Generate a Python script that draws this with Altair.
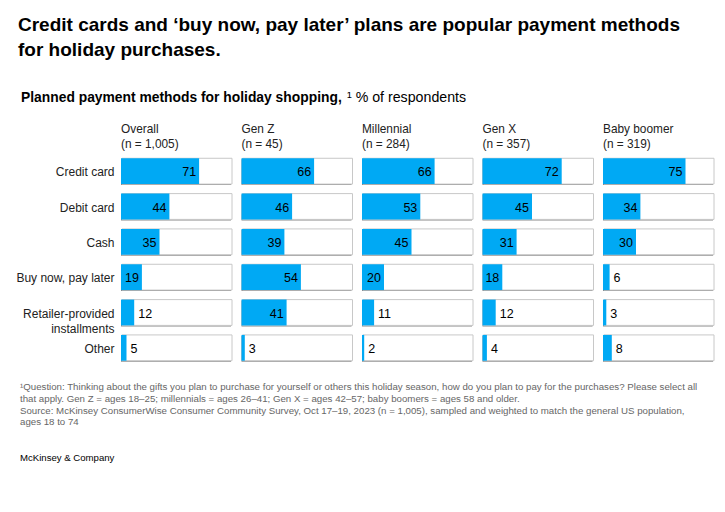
import altair as alt
import pandas as pd

title_lines = ["Credit cards and ‘buy now, pay later’ plans are popular payment methods",
               "for holiday purchases."]
subtitle_bold = "Planned payment methods for holiday shopping,"
subtitle_regular = "¹ % of respondents"

methods = ["Credit card", "Debit card", "Cash", "Buy now, pay later",
           "Retailer-provided|installments", "Other"]
panels = ["Overall", "Gen Z", "Millennial", "Gen X", "Baby boomer"]
panel_n = ["(n = 1,005)", "(n = 45)", "(n = 284)", "(n = 357)", "(n = 319)"]

overall = [71, 44, 35, 19, 12, 5]
gen_z = [66, 46, 39, 54, 41, 3]
millennial = [66, 53, 45, 20, 11, 2]
gen_x = [72, 45, 31, 18, 12, 4]
boomer = [75, 34, 30, 6, 3, 8]

footnotes = [
    "¹Question: Thinking about the gifts you plan to purchase for yourself or others this holiday season, how do you plan to pay for the purchases? Please select all",
    " that apply. Gen Z = ages 18–25; millennials = ages 26–41; Gen X = ages 42–57; baby boomers = ages 58 and older.",
    " Source: McKinsey ConsumerWise Consumer Community Survey, Oct 17–19, 2023 (n = 1,005), sampled and weighted to match the general US population,",
    " ages 18 to 74",
]
brand = "McKinsey & Company"

series = [overall, gen_z, millennial, gen_x, boomer]
rows = []
for p, vals in zip(panels, series):
    for m, v in zip(methods, vals):
        rows.append({"panel": p, "method": m, "value": v})
df = pd.DataFrame(rows)

FONT = "Liberation Sans, Arial, Helvetica, sans-serif"
BLUE = "#00A9F4"

xs = alt.Scale(domain=[0, 100], nice=False, zero=True)
one = pd.DataFrame({"k": [0]})


def note(text, x, y, size, weight="normal", color="#000", line_height=None):
    kw = dict(align="left", baseline="alphabetic", font=FONT, fontSize=size,
              fontWeight=weight, color=color, text=text)
    if line_height:
        kw["lineHeight"] = line_height
    return alt.Chart(one).mark_text(**kw).encode(x=alt.value(x), y=alt.value(y))


def make_panel(i):
    base = alt.Chart(df).transform_filter(alt.datum.panel == panels[i])
    if i == 0:
        axis = alt.Axis(domain=False, ticks=False, labelPadding=7, labelFont=FONT,
                        labelFontSize=12, labelColor="#222",
                        labelExpr="split(datum.label, '|')", labelLineHeight=15)
    else:
        axis = None
    y = alt.Y("method:N", sort=methods, title=None, axis=axis,
              scale=alt.Scale(paddingInner=0.27, paddingOuter=0.135))
    xz = alt.X(datum=0, scale=xs, axis=None)
    dark = base.mark_bar(color="#8a8a8a").encode(x=xz, x2=alt.datum(100), y=y)
    box = base.mark_bar(color="white", stroke="#c8c8c8", strokeWidth=1,
                        xOffset=1, x2Offset=1, yOffset=-1).encode(x=xz, x2=alt.datum(100), y=y)
    bar = base.mark_bar(color=BLUE, yOffset=-1).encode(
        x=alt.X("value:Q", scale=xs, axis=None), x2=alt.datum(0), y=y)
    inside = base.transform_filter(alt.datum.value >= 15).mark_text(
        align="right", dx=-3, baseline="middle", font=FONT, fontSize=12.5, color="#000").encode(
        x=alt.X("value:Q", scale=xs, axis=None), y=y, text="value:Q")
    outside = base.transform_filter(alt.datum.value < 15).mark_text(
        align="left", dx=4, baseline="middle", font=FONT, fontSize=12.5, color="#000").encode(
        x=alt.X("value:Q", scale=xs, axis=None), y=y, text="value:Q")
    header = note([panels[i], panel_n[i]], 0, -21.2, 11.85, color="#222", line_height=14.5)
    layers = [dark, box, bar, inside, outside, header]
    if i == 0:
        layers += [
            note(title_lines, -103, -123.5, 19.0, weight="bold", line_height=25),
            note(subtitle_bold, -100, -52.8, 13.85, weight="bold"),
            note(subtitle_regular, 226, -52.8, 14.2),
            note(footnotes, -101, 235.5, 9.7, color="#666", line_height=11.8),
            note(brand, -101, 306, 9.6),
        ]
    return alt.layer(*layers).properties(width=110, height=212)


chart = alt.hconcat(*[make_panel(i) for i in range(5)], spacing=10.5, bounds="flush").properties(
    padding={"left": 15, "top": 15.5, "right": 5, "bottom": 5},
).configure_view(stroke=None)

chart.save("out.html", embed_options={"renderer": "svg", "actions": False})
